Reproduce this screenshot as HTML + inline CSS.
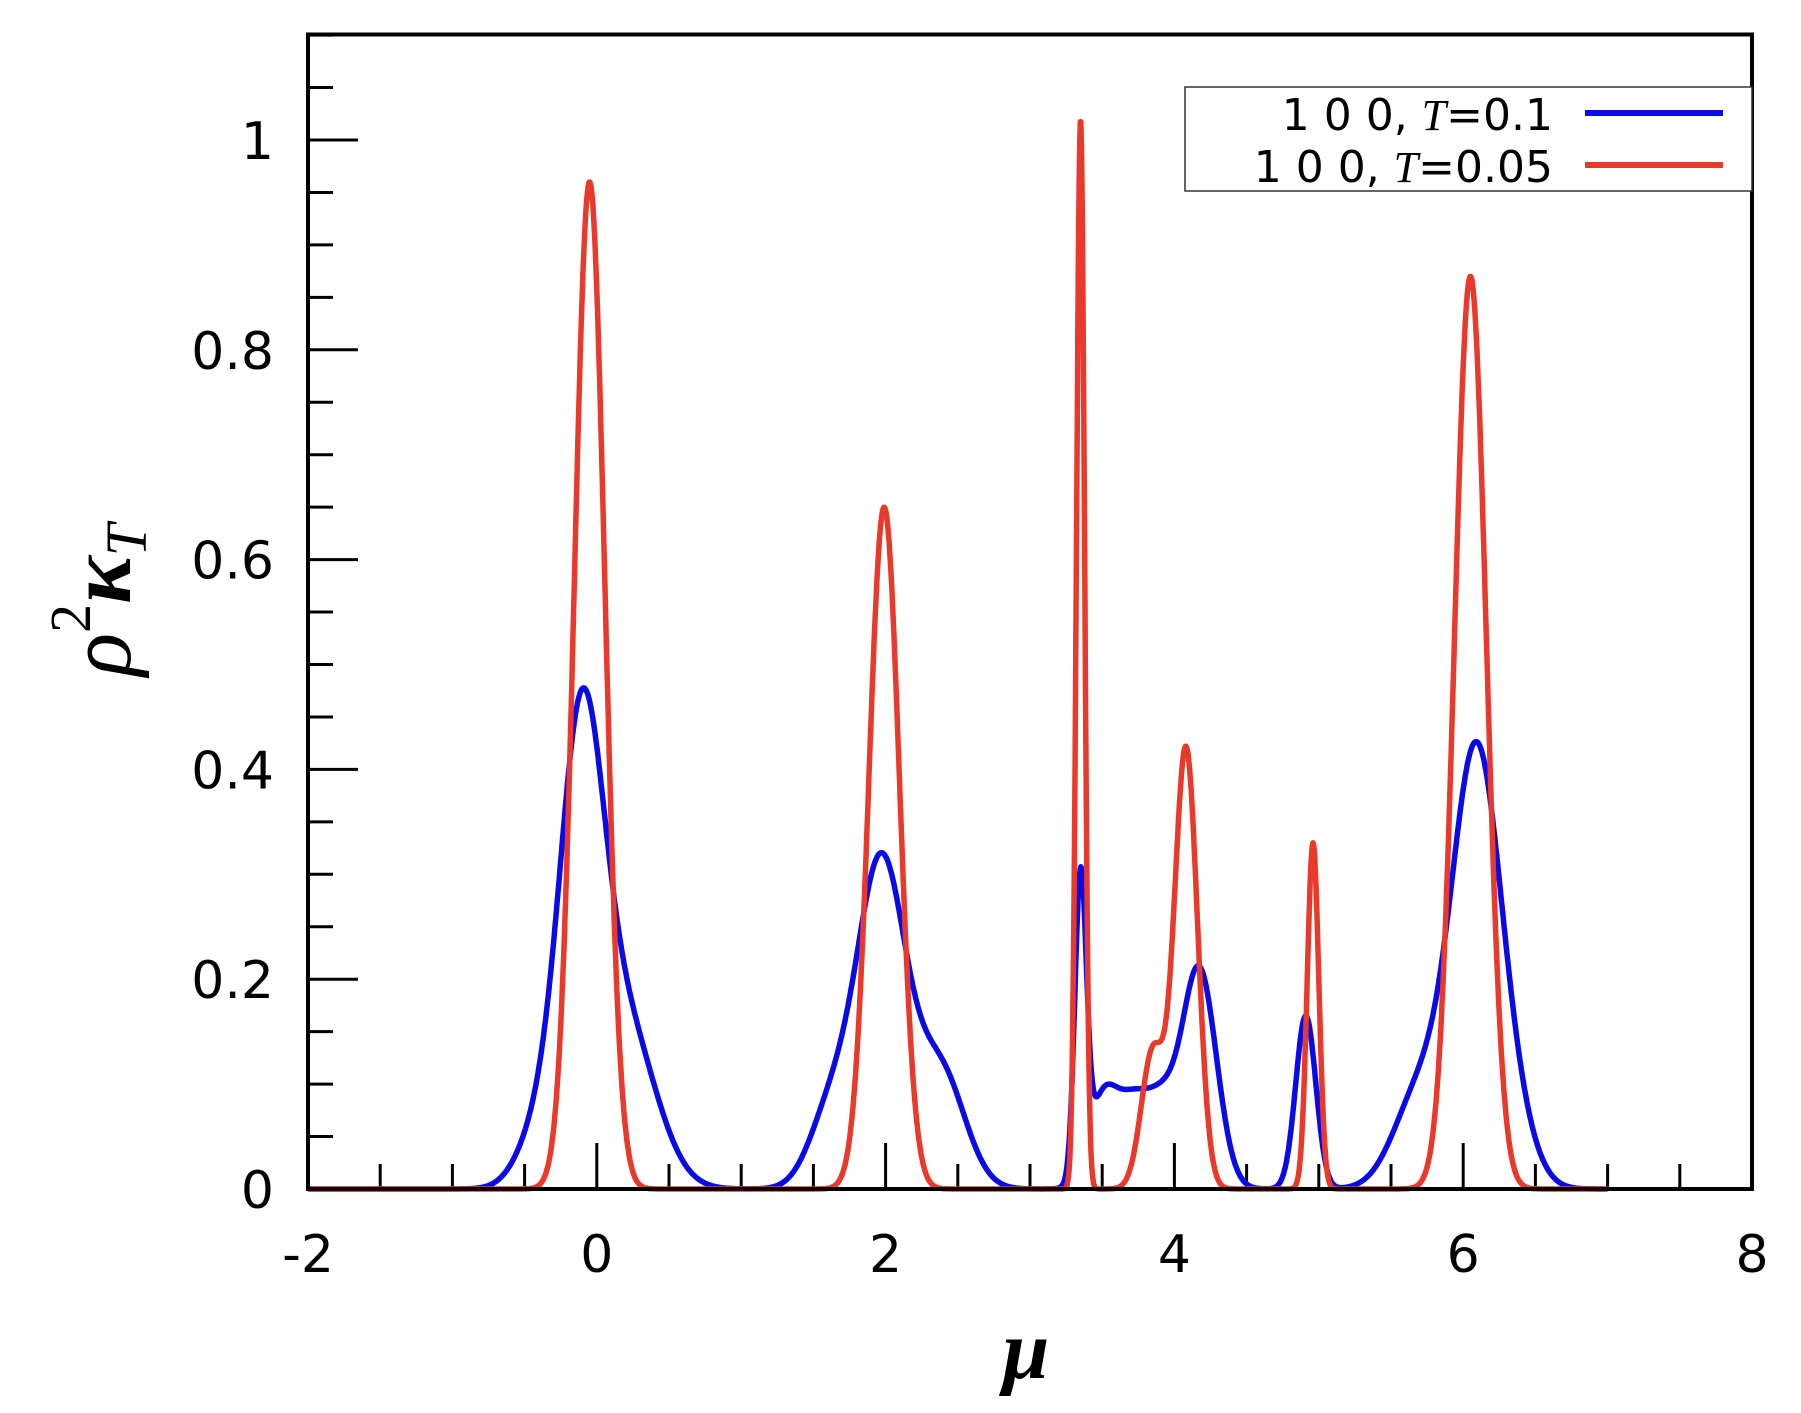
<!DOCTYPE html>
<html><head><meta charset="utf-8"><style>
html,body{margin:0;padding:0;background:#fff;width:1801px;height:1413px;overflow:hidden}
svg text{font-family:"DejaVu Sans","Liberation Sans",sans-serif}
</style></head><body>
<svg id="s" width="1801" height="1413" xmlns="http://www.w3.org/2000/svg">
<rect x="0" y="0" width="1801" height="1413" fill="#fff"/>
<g id="ticks" stroke="#000" stroke-width="3"></g>
<path id="blue" fill="none" stroke="#0a0ae6" stroke-width="5.5" stroke-linejoin="round"/>
<path id="red" fill="none" stroke="#e8392a" stroke-width="5.5" stroke-linejoin="round"/>
<rect x="308" y="34.5" width="1444" height="1154.5" fill="none" stroke="#000" stroke-width="4"/>
<g id="labels" font-size="52" fill="#000"></g>
<text x="1026" y="1378" font-size="84" font-style="italic" font-weight="bold" text-anchor="middle" style="font-family:'Liberation Serif',serif">μ</text>
<g transform="translate(130,600) rotate(-90)">
<text x="0" y="0" font-size="90" font-style="italic" text-anchor="middle" style="font-family:'Liberation Serif',serif">ρ<tspan dy="-40" font-size="58" font-style="normal">2</tspan><tspan dy="40" font-weight="bold">κ</tspan><tspan dy="16" font-size="58">T</tspan></text>
</g>
<rect x="1185" y="87" width="567" height="104" fill="#fff" stroke="#333" stroke-width="1.5"/>
<text x="1553" y="130" font-size="44" text-anchor="end">1 0 0, <tspan font-style="italic" style="font-family:'Liberation Serif',serif">T</tspan>=0.1</text>
<text x="1553" y="182" font-size="44" text-anchor="end">1 0 0, <tspan font-style="italic" style="font-family:'Liberation Serif',serif">T</tspan>=0.05</text>
<line x1="1585" y1="113" x2="1723" y2="113" stroke="#0a0ae6" stroke-width="6"/>
<line x1="1585" y1="165" x2="1723" y2="165" stroke="#e8392a" stroke-width="6"/>
</svg>
<script>
const X=v=>308+(v+2)*144.4, Y=v=>1189-v*1049;
const NS="http://www.w3.org/2000/svg";
const tk=document.getElementById('ticks'), lb=document.getElementById('labels');
function line(x1,y1,x2,y2){const l=document.createElementNS(NS,'line');l.setAttribute('x1',x1);l.setAttribute('y1',y1);l.setAttribute('x2',x2);l.setAttribute('y2',y2);tk.appendChild(l);}
function txt(x,y,s,a){const t=document.createElementNS(NS,'text');t.setAttribute('x',x);t.setAttribute('y',y);t.setAttribute('text-anchor',a);t.textContent=s;lb.appendChild(t);}
for(let i=0;i<=22;i++){const v=i*0.05;const y=Y(v);const major=i%4==0;line(308,y,308+(major?50:25),y);if(major&&v<=1.01){txt(274,y+19,v==0?'0':(Math.abs(v-1)<1e-6?'1':v.toFixed(1)),'end');}}
for(let i=0;i<=20;i++){const v=-2+i*0.5;const x=X(v);const major=i%4==0;line(x,1189,x,1189-(major?46:25));if(major)txt(x,1272,String(v),'middle');}
const g=(x,m,h,s)=>h*Math.exp(-0.5*((x-m)/s)**2);
function blue(x){return g(x,-0.11,0.40,0.15)+g(x,0.18,0.16,0.22)+g(x,-0.4,0.05,0.15)
+g(x,1.97,0.31,0.17)+g(x,2.38,0.11,0.17)+g(x,1.62,0.07,0.15)
+g(x,3.35,0.28,0.04)+g(x,3.5,0.08,0.1)+g(x,3.72,0.08,0.12)+g(x,3.92,0.06,0.1)+g(x,4.17,0.21,0.12)
+g(x,4.91,0.165,0.07)+g(x,6.09,0.41,0.17)+g(x,5.7,0.09,0.18)+g(x,6.36,0.04,0.15);}
function red(x){return g(x,-0.05,0.96,0.105)+g(x,1.99,0.65,0.105)+g(x,3.35,1.02,0.028)
+g(x,4.08,0.42,0.08)+g(x,3.85,0.13,0.08)+g(x,4.96,0.33,0.04)+g(x,6.05,0.87,0.11);}
function path(f){let d='';for(let x=-2;x<=7.0001;x+=0.004){d+=(d?'L':'M')+X(x).toFixed(1)+' '+Y(f(x)).toFixed(1);}return d;}
document.getElementById('blue').setAttribute('d',path(blue));
document.getElementById('red').setAttribute('d',path(red));
</script>
</body></html>
